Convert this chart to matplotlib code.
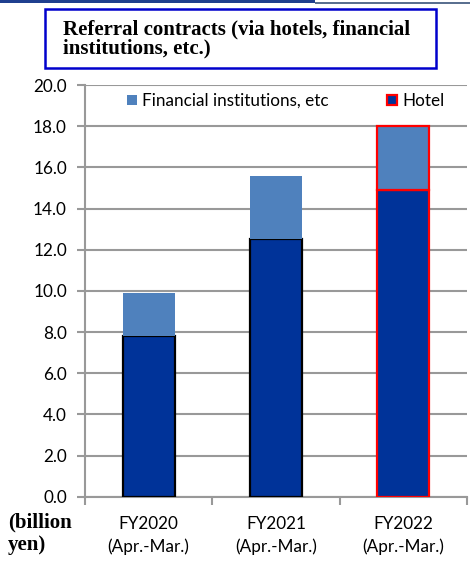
import matplotlib
matplotlib.use("Agg")
import matplotlib.pyplot as plt
from matplotlib.patches import Rectangle, Patch
import numpy as np

categories = ["FY2020\n(Apr.-Mar.)", "FY2021\n(Apr.-Mar.)", "FY2022\n(Apr.-Mar.)"]
hotel = [7.8, 12.5, 14.9]
financial = [2.1, 3.1, 3.1]
yticks = [0.0, 2.0, 4.0, 6.0, 8.0, 10.0, 12.0, 14.0, 16.0, 18.0, 20.0]

HOTEL_C = "#003399"
FIN_C = "#4F81BD"
GRID_C = "#999999"

plt.rcParams["font.family"] = ["Lato", "DejaVu Sans"]

fig = plt.figure(figsize=(4.70, 5.63), dpi=100)
ax = fig.add_axes([85/470, 66.3/563, (467-85)/470, (478-66.3)/563])

x = np.arange(len(categories))
w = 0.41
hotel_edges = ["black", "black", "#FF0000"]
fin_edges = ["none", "none", "#FF0000"]
for i in range(len(categories)):
    ax.bar(x[i], hotel[i], width=w, color=HOTEL_C, edgecolor=hotel_edges[i],
           linewidth=1.6, zorder=3)
    ax.bar(x[i], financial[i], bottom=hotel[i], width=w, color=FIN_C,
           edgecolor=fin_edges[i], linewidth=1.6 if fin_edges[i] != "none" else 0,
           zorder=3)

ax.set_xlim(-0.5, 2.5)
ax.set_ylim(0, 20)
ax.set_yticks(yticks)
ax.set_yticklabels([f"{v:.1f}" for v in yticks], fontsize=12.3)
ax.yaxis.grid(True, color=GRID_C, linewidth=1.5, zorder=0)
ax.set_axisbelow(True)

ax.set_xticks([-0.5, 0.5, 1.5, 2.5])
ax.set_xticklabels([])
ax.set_xticks(x, minor=True)
ax.set_xticklabels(categories, minor=True, fontsize=12.3, linespacing=1.45)
ax.tick_params(axis="x", which="minor", length=0, pad=14)
ax.tick_params(axis="x", which="major", length=6, width=1.5, color=GRID_C, direction="out")
ax.tick_params(axis="y", length=6, width=1.5, color=GRID_C, direction="out", pad=7)

for s in ["top", "right"]:
    ax.spines[s].set_visible(False)
for s in ["left", "bottom"]:
    ax.spines[s].set_color(GRID_C)
    ax.spines[s].set_linewidth(1.5)

handles = [Patch(facecolor=FIN_C, edgecolor="none"),
           Patch(facecolor=HOTEL_C, edgecolor="#FF0000", linewidth=1.6)]
leg = ax.legend(handles, ["Financial institutions, etc", "Hotel"], ncol=2,
                loc="upper center", bbox_to_anchor=(0.525, 1.018), frameon=False,
                fontsize=12.3, handlelength=0.6, handleheight=0.6,
                handletextpad=0.3, columnspacing=3.4)

# Title box
fig.patches.append(Rectangle((45/470, 1 - 68/563), (436-45)/470, (68-9)/563,
                             transform=fig.transFigure, facecolor="white",
                             edgecolor="#0000CC", linewidth=1.8))
fig.text(63/470, 1 - 39/563, "Referral contracts (via hotels, financial\ninstitutions, etc.)",
         family=["Liberation Serif"], fontweight="bold", fontsize=15,
         va="center", ha="left", linespacing=0.88)

# Top decorative strip
fig.patches.append(Rectangle((0, 1 - 2.5/563), 315/470, 2.5/563, transform=fig.transFigure,
                             facecolor="#1F3F8F", edgecolor="none"))
fig.patches.append(Rectangle((315/470, 1 - 3.5/563), 155/470, 1.2/563, transform=fig.transFigure,
                             facecolor="#5A7090", edgecolor="none"))

# unit label
fig.text(8/470, 1 - 534/563, "(billion\nyen)", family=["Liberation Serif"],
         fontweight="bold", fontsize=15, va="center", ha="left", linespacing=1.15)

fig.savefig("out.png", dpi=100)
